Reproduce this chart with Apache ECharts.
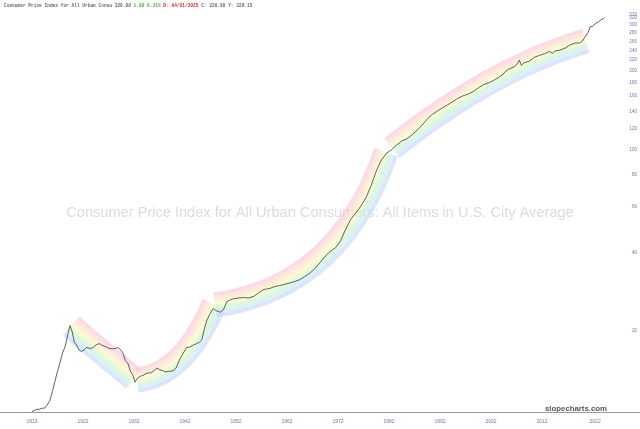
<!DOCTYPE html>
<html>
<head>
<meta charset="utf-8">
<script src="https://cdn.jsdelivr.net/npm/echarts@6/dist/echarts.min.js"></script>
<style>
  html, body { margin: 0; padding: 0; background: #fff; }
  #chart { width: 640px; height: 429px; }
</style>
</head>
<body>
<div id="chart"></div>
<script>
// CPI-U, all items (decimal year, index value)
const cpiYears = [
  1913.0, 1913.5, 1914.0, 1914.5, 1915.0, 1915.5, 1916.0, 1916.5, 1917.0, 1917.5,
  1918.0, 1918.5, 1919.0, 1919.5, 1920.0, 1920.45, 1920.9, 1921.3, 1921.7, 1922.2,
  1922.7, 1923.2, 1923.7, 1924.5, 1925.0, 1925.6, 1926.2, 1926.7, 1927.2, 1927.7,
  1928.3, 1928.8, 1929.3, 1929.8, 1930.3, 1930.8, 1931.3, 1931.8, 1932.3, 1932.8,
  1933.2, 1933.7, 1934.3, 1934.8, 1935.3, 1935.8, 1936.3, 1936.8, 1937.5, 1938.0,
  1938.6, 1939.2, 1939.7, 1940.3, 1940.8, 1941.3, 1941.8, 1942.3, 1942.8, 1943.3,
  1943.8, 1944.5, 1945.3, 1945.8, 1946.3, 1946.8, 1947.3, 1947.8, 1948.5, 1949.0,
  1949.5, 1950.0, 1950.6, 1951.2, 1951.8, 1952.5, 1953.5, 1954.5, 1955.5, 1956.5,
  1957.5, 1958.5, 1959.5, 1960.5, 1961.5, 1962.5, 1963.5, 1964.5, 1965.5, 1966.5,
  1967.5, 1968.5, 1969.5, 1970.5, 1971.5, 1972.5, 1973.5, 1974.5, 1975.5, 1976.5,
  1977.5, 1978.5, 1979.5, 1980.5, 1981.5, 1982.5, 1983.5, 1984.5, 1985.5, 1986.5,
  1987.5, 1988.5, 1989.5, 1990.5, 1991.5, 1992.5, 1993.5, 1994.5, 1995.5, 1996.5,
  1997.5, 1998.5, 1999.5, 2000.5, 2001.5, 2002.5, 2003.5, 2004.5, 2005.5, 2005.8,
  2006.0, 2006.5, 2007.5, 2008.0, 2008.55, 2008.95, 2009.5, 2010.5, 2011.5, 2012.5,
  2013.5, 2014.5, 2015.0, 2015.5, 2016.5, 2017.5, 2018.5, 2019.5, 2020.3, 2020.5,
  2020.9, 2021.5, 2022.0, 2022.45, 2022.9, 2023.5, 2024.0, 2024.5, 2025.0, 2025.25
];
const cpiValues = [
  9.8, 9.9, 10.0, 10.0, 10.1, 10.1, 10.4, 10.8, 11.7, 12.8,
  14.0, 15.1, 16.5, 17.4, 19.3, 21.0, 19.8, 18.1, 17.7, 16.9,
  16.7, 16.9, 17.3, 17.1, 17.3, 17.7, 17.9, 17.6, 17.5, 17.3,
  17.1, 17.1, 17.1, 17.3, 17.0, 16.5, 15.4, 15.0, 14.0, 13.5,
  12.7, 13.2, 13.4, 13.5, 13.7, 13.8, 13.8, 14.0, 14.4, 14.2,
  14.1, 13.9, 14.0, 14.0, 14.1, 14.5, 15.3, 16.0, 16.6, 17.3,
  17.3, 17.6, 17.9, 18.1, 18.5, 20.4, 22.0, 23.1, 24.4, 24.0,
  23.8, 23.6, 24.3, 25.9, 26.3, 26.6, 26.8, 26.9, 26.8, 27.2,
  28.1, 28.9, 29.1, 29.6, 29.9, 30.2, 30.6, 31.0, 31.5, 32.4,
  33.4, 34.8, 36.7, 38.8, 40.5, 41.8, 44.4, 49.3, 53.8, 56.9,
  60.6, 65.2, 72.6, 82.4, 90.9, 96.5, 99.6, 103.9, 107.6, 109.6,
  113.6, 118.3, 124.0, 130.7, 136.2, 140.3, 144.5, 148.2, 152.4, 156.9,
  160.5, 163.0, 166.6, 172.2, 177.1, 179.9, 184.0, 188.9, 195.3, 199.2,
  198.3, 203.5, 207.3, 211.1, 219.9, 210.2, 215.4, 218.1, 225.9, 229.6,
  233.0, 238.0, 233.7, 238.6, 240.6, 244.8, 252.0, 256.1, 256.4, 257.8,
  260.5, 271.7, 281.1, 296.3, 296.8, 305.1, 308.4, 314.2, 317.7, 320.8
];

// rainbow trend arcs: start, middle, end (decimal year, index value)
const bandPaths = [
  [[1920.65, 20.9], [1926.8, 16.5], [1933.0, 13.1]],
  [[1933.6, 12.96], [1942.0, 15.7], [1948.7, 25.4]],
  [[1948.9, 25.2], [1969.5, 38.2], [1982.4, 97.6]],
  [[1983.6, 101.0], [2002.8, 181.7], [2021.6, 261.0]]
];
const bandColors = ['#f9c4d6', '#fbd5cb', '#fce6c2', '#fbf5c0', '#dff5c3', '#c9f0d3', '#c6e9f0', '#c8d3f7'];

const xTickValues = [1913, 1923, 1933, 1943, 1953, 1963, 1973, 1983, 1993, 2003, 2013, 2023.4];
const xTickLabels = ['1913', '1922', '1932', '1942', '1952', '1962', '1972', '1982', '1992', '2002', '2012', '2022'];
const yTickValues = [20, 40, 60, 80, 100, 120, 140, 160, 180, 200, 220, 240, 260, 280, 300, 320, 330, 340];

const chart = echarts.init(document.getElementById('chart'));

function renderBand(params, api) {
  const pts = bandPaths[params.dataIndex].map(p => api.coord(p));
  const p0 = pts[0], m = pts[1], p2 = pts[2];
  // control point so the quadratic passes through the middle point
  const c = [2 * m[0] - (p0[0] + p2[0]) / 2, 2 * m[1] - (p0[1] + p2[1]) / 2];
  const steps = 40;
  const samples = [];
  for (let i = 0; i <= steps; i++) {
    const t = i / steps;
    const x = (1 - t) * (1 - t) * p0[0] + 2 * t * (1 - t) * c[0] + t * t * p2[0];
    const y = (1 - t) * (1 - t) * p0[1] + 2 * t * (1 - t) * c[1] + t * t * p2[1];
    const tx = 2 * (1 - t) * (c[0] - p0[0]) + 2 * t * (p2[0] - c[0]);
    const ty = 2 * (1 - t) * (c[1] - p0[1]) + 2 * t * (p2[1] - c[1]);
    const len = Math.sqrt(tx * tx + ty * ty) || 1;
    samples.push([x, y, ty / len, -tx / len]);
  }
  const w = 3.1;
  const n = bandColors.length;
  const children = bandColors.map((col, i) => {
    const off = ((n - 1) / 2 - i) * w;
    return {
      type: 'polyline',
      shape: { points: samples.map(s => [s[0] + s[2] * off, s[1] + s[3] * off]) },
      style: { stroke: col, lineWidth: w + 0.4, fill: null, opacity: 0.6 }
    };
  });
  return { type: 'group', children: children };
}

const option = {
  animation: false,
  backgroundColor: '#ffffff',
  title: {
    left: 4,
    top: 3,
    padding: 0,
    text: '{a|Consumer Price Index for All Urban Consu 320.80 }{g|1.00 0.31%}{r| D: 04/01/2025}{a| C: 320.80 Y: 329.15}',
    textStyle: {
      rich: {
        a: { fontFamily: 'Liberation Mono', fontSize: 4.5, color: '#666' },
        g: { fontFamily: 'Liberation Mono', fontSize: 4.5, color: '#4aa84a' },
        r: { fontFamily: 'Liberation Mono', fontSize: 4.5, color: '#d42a2a' }
      }
    }
  },
  graphic: [
    {
      type: 'text',
      left: 'center',
      top: 205,
      z: 0,
      style: {
        text: 'Consumer Price Index for All Urban Consumers: All Items in U.S. City Average',
        font: '14.6px "Liberation Sans", Arial, sans-serif',
        fill: '#dcdcdc'
      }
    },
    {
      type: 'text',
      right: 33,
      top: 405,
      style: {
        text: 'slopecharts.com',
        font: 'bold 7.8px "Liberation Sans", Arial, sans-serif',
        fill: '#555'
      }
    }
  ],
  grid: { left: 0, right: 0, top: 0, bottom: 17 },
  xAxis: {
    type: 'value',
    min: 1906.73,
    max: 2032.2,
    splitLine: { show: false },
    axisLine: { lineStyle: { color: '#9a9a9a', width: 1 } },
    axisTick: { show: false },
    axisLabel: {
      customValues: xTickValues,
      formatter: v => xTickLabels[xTickValues.indexOf(v)] || '',
      fontSize: 5,
      color: '#7077a8',
      margin: 7
    }
  },
  yAxis: {
    type: 'log',
    position: 'right',
    min: 9.76,
    max: 375,
    splitLine: { show: false },
    axisLine: { show: false },
    axisTick: { show: false },
    axisLabel: {
      inside: true,
      customValues: yTickValues,
      formatter: v => String(Math.round(v)),
      fontSize: 4.6,
      color: '#7077a8',
      margin: 3
    }
  },
  series: [
    {
      type: 'custom',
      coordinateSystem: 'cartesian2d',
      renderItem: renderBand,
      encode: { x: 0, y: 1 },
      clip: false,
      silent: true,
      z: 1,
      data: bandPaths.map((b, i) => [b[0][0], b[0][1], i])
    },
    {
      type: 'line',
      z: 3,
      showSymbol: false,
      lineStyle: { color: '#3a3a3a', width: 0.8 },
      data: cpiYears.map((y, i) => [y, cpiValues[i]])
    }
  ]
};

chart.setOption(option);
</script>
</body>
</html>
